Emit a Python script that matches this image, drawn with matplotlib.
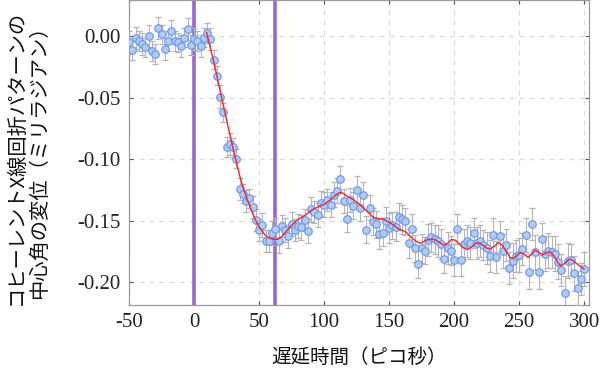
import matplotlib
matplotlib.use("Agg")
import matplotlib.pyplot as plt

delay_ps = [
    -50.0, -47.5, -45.0, -42.5, -40.0, -37.5, -35.0, -32.5, -30.0, -27.5,
    -25.0, -22.5, -20.0, -17.5, -15.0, -12.5, -10.0, -7.5, -5.0, -2.5,
    0.0, 2.5, 5.0, 7.5, 10.0, 12.5, 15.0, 17.5, 20.0, 22.5,
    25.0, 27.5, 30.0, 32.5, 35.0, 37.5, 40.0, 42.5, 45.0, 47.5,
    50.0, 52.5, 55.0, 57.5, 60.0, 62.5, 65.0, 67.5, 70.0, 72.5,
    75.0, 77.5, 80.0, 82.5, 85.0, 87.5, 90.0, 92.5, 95.0, 97.5,
    100.0, 102.5, 105.0, 107.5, 110.0, 112.5, 115.0, 117.5, 120.0, 122.5,
    125.0, 127.5, 130.0, 132.5, 135.0, 137.5, 140.0, 142.5, 145.0, 147.5,
    150.0, 152.5, 155.0, 157.5, 160.0, 162.5, 165.0, 167.5, 170.0, 172.5,
    175.0, 177.5, 180.0, 182.5, 185.0, 187.5, 190.0, 192.5, 195.0, 197.5,
    200.0, 202.5, 205.0, 207.5, 210.0, 212.5, 215.0, 217.5, 220.0, 222.5,
    225.0, 227.5, 230.0, 232.5, 235.0, 237.5, 240.0, 242.5, 245.0, 247.5,
    250.0, 252.5, 255.0, 257.5, 260.0, 262.5, 265.0, 267.5, 270.0, 272.5,
    275.0, 277.5, 280.0, 282.5, 285.0, 287.5, 290.0, 292.5, 295.0, 297.5,
    300.0,
]

shift_mrad = [
    -0.005, -0.011, -0.001, -0.004, -0.0065, -0.009, 0.000, -0.012, -0.0146, 0.007,
    0.0016, -0.010, -0.004, 0.004, -0.004, -0.005, -0.008, -0.001, 0.006, -0.007,
    -0.0024, -0.004, -0.008, -0.001, 0.0027, -0.0024, -0.019, -0.032, -0.049, -0.062,
    -0.090, -0.088, -0.0905, -0.0995, -0.124, -0.128, -0.134, -0.132, -0.139, -0.1496,
    -0.158, -0.1537, -0.167, -0.167, -0.160, -0.1567, -0.1667, -0.1545, -0.1577, -0.163,
    -0.1528, -0.1577, -0.1545, -0.1555, -0.1496, -0.1585, -0.141, -0.143, -0.1455, -0.136,
    -0.137, -0.1333, -0.137, -0.129, -0.1257, -0.1165, -0.134, -0.1485, -0.1333, -0.138,
    -0.125, -0.140, -0.1295, -0.1577, -0.1396, -0.151, -0.153, -0.161, -0.160, -0.150,
    -0.156, -0.1537, -0.155, -0.147, -0.149, -0.1504, -0.1685, -0.157, -0.1726, -0.185,
    -0.1726, -0.1745, -0.166, -0.1637, -0.1653, -0.1664, -0.169, -0.181, -0.1726, -0.1745,
    -0.182, -0.157, -0.182, -0.169, -0.167, -0.168, -0.160, -0.168, -0.167, -0.170,
    -0.1726, -0.179, -0.162, -0.180, -0.163, -0.175, -0.170, -0.189, -0.1827, -0.1786,
    -0.178, -0.173, -0.162, -0.1916, -0.153, -0.176, -0.192, -0.165, -0.177, -0.1745,
    -0.1753, -0.177, -0.1834, -0.190, -0.209, -0.1827, -0.182, -0.193, -0.205, -0.1976,
    -0.1894,
]

shift_err = [
    0.009, 0.008, 0.009, 0.008, 0.009, 0.008, 0.009, 0.008, 0.008, 0.009,
    0.008, 0.009, 0.008, 0.009, 0.008, 0.008, 0.009, 0.008, 0.009, 0.008,
    0.009, 0.008, 0.009, 0.008, 0.008, 0.009, 0.008, 0.008, 0.009, 0.008,
    0.008, 0.009, 0.008, 0.008, 0.009, 0.008, 0.009, 0.008, 0.009, 0.009,
    0.009, 0.010, 0.009, 0.009, 0.010, 0.009, 0.010, 0.009, 0.010, 0.009,
    0.010, 0.009, 0.010, 0.010, 0.009, 0.010, 0.010, 0.009, 0.010, 0.010,
    0.010, 0.009, 0.010, 0.010, 0.010, 0.011, 0.010, 0.011, 0.010, 0.011,
    0.011, 0.010, 0.011, 0.011, 0.010, 0.011, 0.011, 0.012, 0.011, 0.011,
    0.012, 0.011, 0.012, 0.011, 0.012, 0.011, 0.012, 0.012, 0.011, 0.012,
    0.012, 0.011, 0.013, 0.012, 0.012, 0.013, 0.012, 0.012, 0.013, 0.012,
    0.013, 0.012, 0.013, 0.012, 0.013, 0.013, 0.012, 0.013, 0.013, 0.012,
    0.013, 0.013, 0.014, 0.013, 0.013, 0.014, 0.013, 0.013, 0.014, 0.013,
    0.014, 0.013, 0.014, 0.014, 0.013, 0.014, 0.014, 0.013, 0.014, 0.014,
    0.013, 0.014, 0.014, 0.013, 0.014, 0.014, 0.013, 0.014, 0.014, 0.013,
    0.014,
]

fit_ps = [
    9.7, 15.0, 20.0, 25.0, 30.0, 35.0, 38.0, 40.0, 42.5, 45.0, 47.5, 50.0,
    52.5, 55.0, 57.5, 60.0, 62.5, 65.0, 67.5, 70.0, 75.0, 80.0, 85.0, 90.0,
    95.0, 100.0, 105.0, 110.0, 112.5, 115.0, 117.5, 122.5, 127.5, 132.5,
    137.5, 140.0, 142.5, 145.0, 147.5, 152.5, 157.5, 162.5, 167.5, 171.0,
    174.0, 177.0, 180.0, 183.0, 186.0, 189.0, 192.0, 195.0, 198.0, 201.0,
    204.0, 207.0, 210.0, 213.0, 216.0, 219.0, 222.0, 225.0, 228.0, 231.0,
    234.0, 237.0, 240.0, 243.0, 245.0, 248.0, 251.0, 254.0, 257.0, 260.0,
    262.5, 265.0, 268.0, 271.0, 274.0, 277.0, 280.0, 282.0, 285.0, 288.0,
    290.0, 293.0, 296.0, 300.0,
]

fit_mrad = [
    0.003, -0.020, -0.044, -0.068, -0.091, -0.113, -0.124, -0.130, -0.137, -0.144, -0.150, -0.155,
    -0.159, -0.162, -0.164, -0.165, -0.1655, -0.165, -0.163, -0.160, -0.154, -0.149, -0.146, -0.142,
    -0.139, -0.137, -0.133, -0.1285, -0.127, -0.128, -0.130, -0.133, -0.137, -0.142,
    -0.147, -0.148, -0.1485, -0.1485, -0.150, -0.153, -0.157, -0.159, -0.164, -0.167,
    -0.1685, -0.167, -0.1655, -0.165, -0.166, -0.168, -0.170, -0.1685, -0.1655, -0.166,
    -0.169, -0.172, -0.1735, -0.172, -0.169, -0.168, -0.170, -0.1725, -0.173, -0.171,
    -0.168, -0.170, -0.175, -0.180, -0.181, -0.179, -0.176, -0.1775, -0.180, -0.177,
    -0.174, -0.176, -0.178, -0.176, -0.1755, -0.179, -0.1845, -0.187, -0.185, -0.182,
    -0.1815, -0.184, -0.1865, -0.1895,
]

vlines_ps = [0.0, 62.0]
xticks = [-50, 0, 50, 100, 150, 200, 250, 300]
yticks = [0.00, -0.05, -0.10, -0.15, -0.20]

xlabel = "遅延時間（ピコ秒）"
ylabel = "コヒーレントX線回折パターンの\n中心角の変位（ミリラジアン）"

cjk = ["Noto Sans CJK JP", "DejaVu Sans"]

fig = plt.figure(figsize=(6.0, 3.7), dpi=100)
ax = fig.add_axes([0.215, 0.176, 0.7667, 0.823])

ax.set_xlim(-50, 303.8)
ax.set_ylim(-0.2187, 0.0293)

ax.grid(True, color="#dcdcdc", linestyle=(0, (4, 4)), linewidth=0.9)
ax.set_axisbelow(True)

for xv in vlines_ps:
    ax.axvline(xv, color="#9966cc", linewidth=2.6, zorder=2)

ax.errorbar(delay_ps, shift_mrad, yerr=shift_err, fmt="o",
            markersize=5.4, markerfacecolor="#aecdf8", markeredgecolor="#7398f0",
            markeredgewidth=0.9, ecolor="#b4b4b4", elinewidth=0.8,
            capsize=2.0, capthick=0.8, zorder=3)

ax.plot(fit_ps, fit_mrad, color="#ff2020", linewidth=1.0, zorder=4)

ax.set_xticks(xticks)
ax.set_xticklabels([f"{v}" for v in xticks])
ax.set_yticks(yticks)
ax.set_yticklabels([f"{v:.2f}" for v in yticks])

for lab in ax.get_xticklabels() + ax.get_yticklabels():
    lab.set_fontfamily("Liberation Serif")
    lab.set_fontsize(15)
    lab.set_color("#222222")

ax.tick_params(direction="in", length=3, width=0.8, color="#555555",
               top=True, right=True, pad=6)
for sp in ax.spines.values():
    sp.set_color("#999999")
    sp.set_linewidth(0.9)

fig.text(0.5983, 1 - 357 / 370, xlabel, ha="center", va="center",
         fontsize=14, family=cjk, color="#111111")
fig.text(0.047, 1 - 157 / 370, ylabel, ha="center", va="center",
         rotation=90, fontsize=14.6, family=cjk, color="#111111",
         multialignment="center", linespacing=1.15)

fig.savefig("out.png", dpi=100)
